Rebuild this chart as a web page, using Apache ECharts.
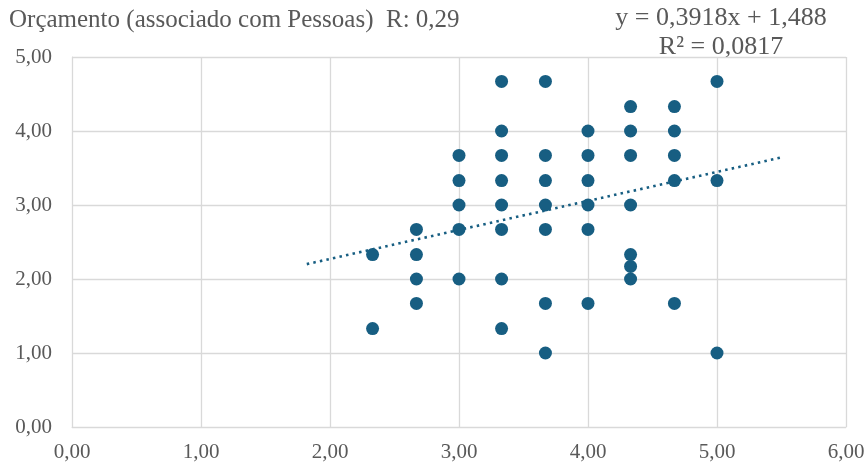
<!DOCTYPE html>
<html>
<head>
<meta charset="utf-8">
<script src="https://cdn.jsdelivr.net/npm/echarts@6/dist/echarts.min.js"></script>
<style>
  html, body { margin: 0; padding: 0; background: #fff; }
  #chart { width: 868px; height: 467px; }
</style>
</head>
<body>
<div id="chart"></div>
<script>
// Pessoas (x) vs Orçamento (y), one entry per respondent
const xValues = [
  2.33, 2.33,
  2.67, 2.67, 2.67, 2.67,
  3.00, 3.00, 3.00, 3.00, 3.00,
  3.33, 3.33, 3.33, 3.33, 3.33, 3.33, 3.33, 3.33,
  3.67, 3.67, 3.67, 3.67, 3.67, 3.67, 3.67,
  4.00, 4.00, 4.00, 4.00, 4.00, 4.00,
  4.33, 4.33, 4.33, 4.33, 4.33, 4.33, 4.33,
  4.67, 4.67, 4.67, 4.67, 4.67,
  5.00, 5.00, 5.00
];
const yValues = [
  2.33, 1.33,
  2.67, 2.33, 2.00, 1.67,
  3.67, 3.33, 3.00, 2.67, 2.00,
  4.67, 4.00, 3.67, 3.33, 3.00, 2.67, 2.00, 1.33,
  4.67, 3.67, 3.33, 3.00, 2.67, 1.67, 1.00,
  4.00, 3.67, 3.33, 3.00, 2.67, 1.67,
  4.33, 4.00, 3.67, 3.00, 2.33, 2.17, 2.00,
  4.33, 4.00, 3.67, 3.33, 1.67,
  4.67, 3.33, 1.00
];

// Linear trend shown in the annotation
const trendSlope = 0.3918;
const trendIntercept = 1.488;
const trendRange = [1.82, 5.5];

const titleText = 'Orçamento (associado com Pessoas)  R: 0,29';
const equationLines = ['y = 0,3918x + 1,488', 'R² = 0,0817'];

const color = '#175E82';
const textColor = '#595959';
const font = '"Liberation Serif", "Times New Roman", serif';

const points = xValues.map((x, i) => [x, yValues[i]]);
const trend = trendRange.map(x => [x, trendSlope * x + trendIntercept]);
const fmt = v => v.toFixed(2).replace('.', ',');

const chart = echarts.init(document.getElementById('chart'));
chart.setOption({
  animation: false,
  backgroundColor: '#fff',
  textStyle: { fontFamily: font },
  graphic: [
    {
      type: 'text', x: 9, y: 7.5,
      style: {
        text: titleText, font: '25px ' + font, fill: textColor,
        align: 'left', verticalAlign: 'top', lineHeight: 25
      }
    },
    {
      type: 'text', x: 721, y: 4,
      style: {
        text: equationLines.join('\n'), font: '26px ' + font, fill: textColor,
        align: 'center', verticalAlign: 'top', lineHeight: 28.5
      }
    }
  ],
  grid: { left: 72, right: 22, top: 57, bottom: 40 },
  xAxis: {
    type: 'value', min: 0, max: 6, interval: 1,
    axisLine: { show: true, lineStyle: { color: '#d9d9d9', width: 1 } },
    axisTick: { show: false },
    splitLine: { show: true, lineStyle: { color: '#d9d9d9', width: 1.3 } },
    axisLabel: { formatter: fmt, color: textColor, fontFamily: font, fontSize: 21, margin: 15 }
  },
  yAxis: {
    type: 'value', min: 0, max: 5, interval: 1,
    axisLine: { show: true, lineStyle: { color: '#d9d9d9', width: 1 } },
    axisTick: { show: false },
    splitLine: { show: true, lineStyle: { color: '#d9d9d9', width: 1.3 } },
    axisLabel: { formatter: fmt, color: textColor, fontFamily: font, fontSize: 21, margin: 20 }
  },
  series: [
    {
      type: 'scatter',
      data: points,
      symbol: 'circle',
      symbolSize: 13,
      itemStyle: { color: color, opacity: 1 },
      z: 3
    },
    {
      type: 'line',
      data: trend,
      showSymbol: false,
      symbol: 'none',
      lineStyle: { color: color, width: 2.6, type: [2.5, 4.2] },
      z: 4
    }
  ]
});
</script>
</body>
</html>
